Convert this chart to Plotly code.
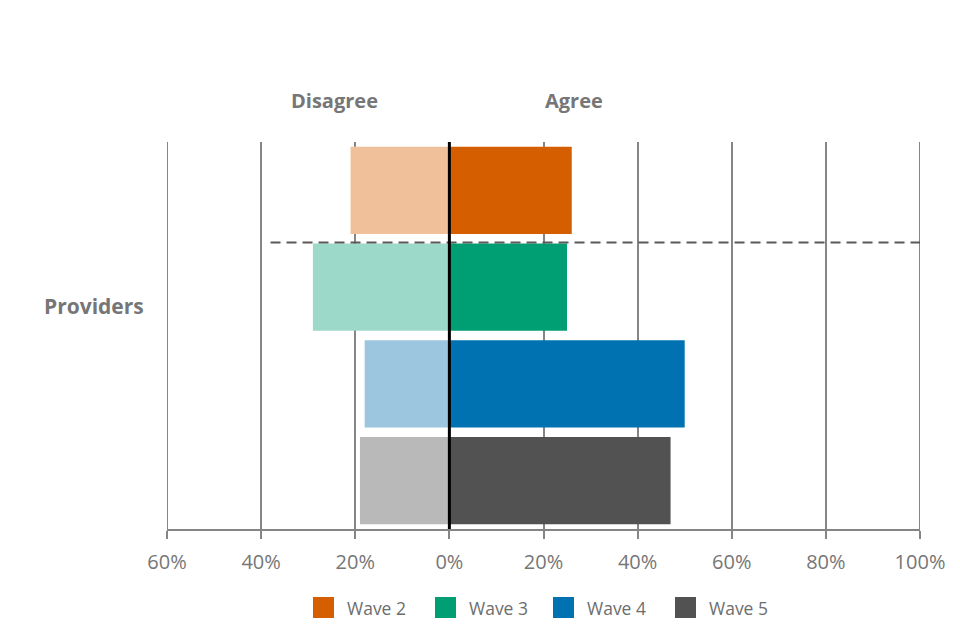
import plotly.graph_objects as go

# data
waves = ["Wave 2", "Wave 3", "Wave 4", "Wave 5"]
agree = [26, 25, 50, 47]
disagree = [21, 29, 18, 19]
tick_vals = [-60, -40, -20, 0, 20, 40, 60, 80, 100]
tick_text = ["60%", "40%", "20%", "0%", "20%", "40%", "60%", "80%", "100%"]

dark = ["#D55E00", "#009E73", "#0072B2", "#525252"]
light = ["#F0C09A", "#9CD9C8", "#9CC6E0", "#B9B9B9"]

fig = go.Figure()

for i, w in enumerate(waves):
    # disagree side (negative), lighter shade
    fig.add_trace(go.Bar(
        y=[w], x=[-disagree[i]], orientation="h",
        marker=dict(color=light[i], line=dict(width=0)),
        width=0.9, showlegend=False, name=w + " disagree",
        hovertemplate="%{y}: " + str(disagree[i]) + "%<extra>Disagree</extra>",
    ))
    fig.add_trace(go.Bar(
        y=[w], x=[agree[i]], orientation="h",
        marker=dict(color=dark[i], line=dict(width=0)),
        width=0.9, showlegend=False, name=w,
        hovertemplate="%{y}: %{x}%<extra>Agree</extra>",
    ))

grid = "#858585"
grey_text = "#767676"

# dashed separator under wave 2
fig.add_shape(type="line", xref="x", yref="y", x0=-38, x1=100, y0=0.54, y1=0.54,
              line=dict(color="#595959", width=2, dash="10px,6px"), layer="above")
# edge gridlines (plotly hides the ones on the range ends)
for gx in (-60, 100):
    fig.add_shape(type="line", xref="x", yref="paper", x0=gx, x1=gx, y0=0, y1=1,
                  line=dict(color=grid, width=2), layer="below")
# zero line on top of bars
fig.add_shape(type="line", xref="x", yref="paper", x0=0, x1=0, y0=0, y1=1,
              line=dict(color="black", width=3), layer="above")

fig.add_annotation(text="<b>Disagree</b>", xref="x", yref="paper", x=-24.5, y=1.0,
                   yanchor="bottom", yshift=26, showarrow=False,
                   font=dict(size=20, color=grey_text))
fig.add_annotation(text="<b>Agree</b>", xref="x", yref="paper", x=26.5, y=1.0,
                   yanchor="bottom", yshift=26, showarrow=False,
                   font=dict(size=20, color=grey_text))
fig.add_annotation(text="<b>Providers</b>", xref="paper", yref="paper", x=-0.028, y=0.575,
                   xanchor="right", showarrow=False,
                   font=dict(size=21, color=grey_text))

# legend drawn by hand so the swatches can be as large as in the original
plot_w, plot_h = 753, 387
legend_left = [146, 268, 386, 508]   # px from plot left edge
sw = 21
for i, w in enumerate(waves):
    x0 = legend_left[i] / plot_w
    x1 = (legend_left[i] + sw) / plot_w
    fig.add_shape(type="rect", xref="paper", yref="paper",
                  x0=x0, x1=x1, y0=-68 / plot_h, y1=-(68 + sw) / plot_h,
                  fillcolor=dark[i], line=dict(width=0))
    fig.add_annotation(text=w, xref="paper", yref="paper",
                       x=(legend_left[i] + sw + 11) / plot_w, y=-(68 + sw / 2) / plot_h,
                       xanchor="left", yanchor="middle", showarrow=False,
                       font=dict(size=17.5, color="#6d6d6d"))

fig.update_layout(
    width=960, height=640,
    margin=dict(l=159, r=48, t=134, b=119),
    barmode="relative", bargap=0.1, showlegend=False,
    plot_bgcolor="white", paper_bgcolor="white",
    font=dict(family="Open Sans", color=grey_text),
    xaxis=dict(range=[-60, 100], tickvals=tick_vals, ticktext=tick_text,
               showgrid=True, gridcolor=grid, gridwidth=2,
               zeroline=False, showline=True, linecolor=grid, linewidth=2,
               ticks="outside", ticklen=8, tickwidth=2, tickcolor=grid,
               ticklabelstandoff=6,
               tickfont=dict(size=20, color=grey_text)),
    yaxis=dict(autorange="reversed", showticklabels=False, showgrid=False,
               zeroline=False, showline=False, fixedrange=True),
)

fig.write_html("out.html")
